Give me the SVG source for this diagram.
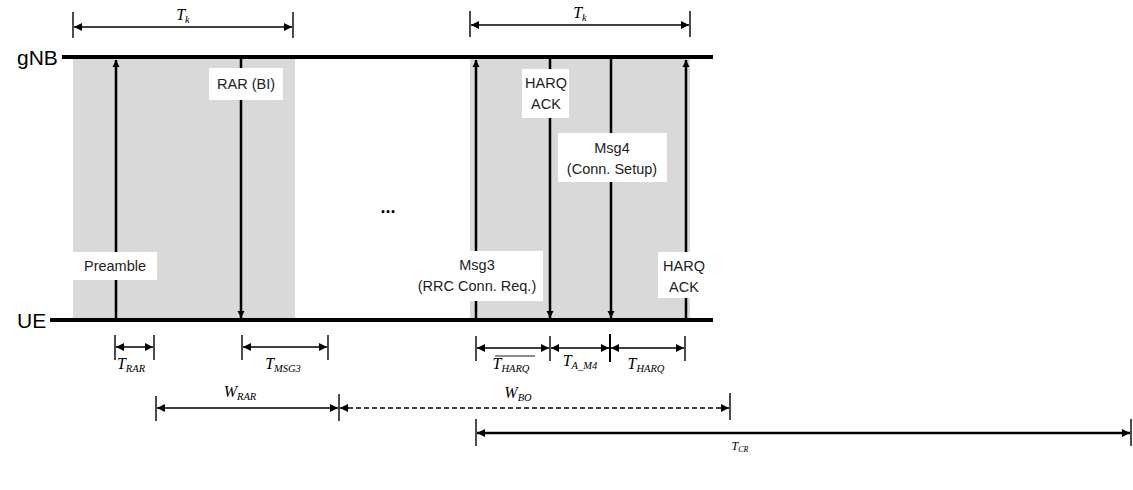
<svg xmlns="http://www.w3.org/2000/svg" width="1133" height="490" viewBox="0 0 1133 490">
<style>
.bg{fill:#ffffff}
.shade{fill:#d9d9d9}
.life{stroke:#000;stroke-width:4;fill:none}
.msg{stroke:#000;stroke-width:2.5;fill:none}
.dim{stroke:#000;stroke-width:1.6;fill:none}
.tick{stroke:#000;stroke-width:1.4;fill:none}
.lbox{fill:#ffffff}
.lt{font-family:"Liberation Sans",Arial,sans-serif;font-size:14.5px;fill:#222;text-anchor:middle}
.ent{font-family:"Liberation Sans",Arial,sans-serif;font-size:21px;fill:#000}
.math{font-family:"Liberation Serif","Times New Roman",serif;font-style:italic;font-size:16px;fill:#000;text-anchor:middle}
.sub{font-size:10.5px}
.dots{font-family:"Liberation Sans",Arial,sans-serif;font-size:18px;font-weight:bold;fill:#000;text-anchor:middle}
</style>
<defs>
<marker id="ah" viewBox="0 0 10 10" refX="10" refY="5" markerWidth="8" markerHeight="8" markerUnits="userSpaceOnUse" orient="auto-start-reverse">
<path d="M0,0 L10,5 L0,10 z" fill="#000"/>
</marker>
<marker id="ahm" viewBox="0 0 10 10" refX="10" refY="5" markerWidth="7" markerHeight="9" markerUnits="userSpaceOnUse" orient="auto">
<path d="M0,0 L10,5 L0,10 z" fill="#000"/>
</marker>
</defs>
<rect class="bg" x="0" y="0" width="1133" height="490"/>

<g id="shading">
<rect class="shade" x="73" y="58" width="222" height="261"/>
<rect class="shade" x="470" y="58" width="220" height="261"/>
</g>

<g id="gNB">
<text class="ent" x="17" y="65">gNB</text>
<line class="life" x1="62" y1="57" x2="713" y2="57"/>
</g>
<g id="UE">
<text class="ent" x="17" y="328">UE</text>
<line class="life" x1="50" y1="320" x2="713" y2="320"/>
</g>

<g id="connectors">
<line class="msg" x1="116" y1="318" x2="116" y2="60" marker-end="url(#ahm)"/>
<line class="msg" x1="241" y1="59" x2="241" y2="318" marker-end="url(#ahm)"/>
<line class="msg" x1="476" y1="318" x2="476" y2="60" marker-end="url(#ahm)"/>
<line class="msg" x1="550" y1="59" x2="550" y2="318" marker-end="url(#ahm)"/>
<line class="msg" x1="611" y1="59" x2="611" y2="318" marker-end="url(#ahm)"/>
<line class="msg" x1="686" y1="318" x2="686" y2="60" marker-end="url(#ahm)"/>
</g>

<g id="preamble">
<rect class="lbox" x="73" y="252" width="84" height="28"/>
<text class="lt" x="115" y="271">Preamble</text>
</g>
<g id="rar">
<rect class="lbox" x="209" y="68" width="74" height="32"/>
<text class="lt" x="246" y="89">RAR (BI)</text>
</g>
<g id="msg3">
<rect class="lbox" x="412" y="251" width="131" height="50"/>
<text class="lt" x="477" y="270">Msg3</text>
<text class="lt" x="477" y="291">(RRC Conn. Req.)</text>
</g>
<g id="harq-ack-1">
<rect class="lbox" x="522" y="69" width="47" height="49"/>
<text class="lt" x="546" y="88">HARQ</text>
<text class="lt" x="546" y="109">ACK</text>
</g>
<g id="msg4">
<rect class="lbox" x="558" y="133" width="109" height="49"/>
<text class="lt" x="612" y="153">Msg4</text>
<text class="lt" x="612" y="174">(Conn. Setup)</text>
</g>
<g id="harq-ack-2">
<rect class="lbox" x="658" y="252" width="52" height="46"/>
<text class="lt" x="684" y="271">HARQ</text>
<text class="lt" x="684" y="292">ACK</text>
</g>

<g id="ellipsis">
<text class="dots" x="388" y="213">...</text>
</g>

<g id="timing">
<line class="tick" x1="73" y1="12" x2="73" y2="38"/>
<line class="tick" x1="293" y1="12" x2="293" y2="38"/>
<line class="dim" x1="74" y1="27" x2="292" y2="27" marker-start="url(#ah)" marker-end="url(#ah)"/>
<text class="math" x="183" y="20">T<tspan class="sub" dy="3">k</tspan></text>
<line class="tick" x1="470" y1="11" x2="470" y2="37"/>
<line class="tick" x1="690" y1="11" x2="690" y2="37"/>
<line class="dim" x1="471" y1="25" x2="689" y2="25" marker-start="url(#ah)" marker-end="url(#ah)"/>
<text class="math" x="580" y="18">T<tspan class="sub" dy="3">k</tspan></text>

<line class="tick" x1="115" y1="335" x2="115" y2="360"/>
<line class="tick" x1="154" y1="335" x2="154" y2="360"/>
<line class="dim" x1="116" y1="347" x2="153" y2="347" marker-start="url(#ah)" marker-end="url(#ah)"/>
<text class="math" x="131" y="369">T<tspan class="sub" dy="3">RAR</tspan></text>
<line class="tick" x1="242" y1="335" x2="242" y2="360"/>
<line class="tick" x1="328" y1="335" x2="328" y2="360"/>
<line class="dim" x1="243" y1="347" x2="327" y2="347" marker-start="url(#ah)" marker-end="url(#ah)"/>
<text class="math" x="283" y="369">T<tspan class="sub" dy="3">MSG3</tspan></text>

<line class="tick" x1="476" y1="336" x2="476" y2="361"/>
<line class="tick" x1="550" y1="336" x2="550" y2="361"/>
<line class="tick" x1="610" y1="334" x2="610" y2="362" style="stroke-width:2"/>
<line class="tick" x1="685" y1="336" x2="685" y2="361"/>
<line class="dim" x1="477" y1="348" x2="549" y2="348" marker-start="url(#ah)" marker-end="url(#ah)"/>
<line class="dim" x1="551" y1="348" x2="609" y2="348" marker-start="url(#ah)" marker-end="url(#ah)"/>
<line class="dim" x1="611" y1="348" x2="684" y2="348" marker-start="url(#ah)" marker-end="url(#ah)"/>
<text class="math" x="511" y="369">T<tspan class="sub" dy="3">HARQ</tspan></text>
<line x1="495" y1="356" x2="535" y2="356" stroke="#000" stroke-width="0.9"/>
<text class="math" x="580" y="366">T<tspan class="sub" dy="3">A_M4</tspan></text>
<text class="math" x="646" y="369">T<tspan class="sub" dy="3">HARQ</tspan></text>

<line class="tick" x1="156" y1="396" x2="156" y2="421"/>
<line class="tick" x1="339" y1="394" x2="339" y2="421"/>
<line class="dim" x1="157" y1="408" x2="338" y2="408" marker-start="url(#ah)" marker-end="url(#ah)"/>
<text class="math" x="240" y="397">W<tspan class="sub" dy="3">RAR</tspan></text>
<line x1="340" y1="408" x2="729" y2="408" stroke="#000" stroke-width="1.4" stroke-dasharray="5,3" marker-start="url(#ah)" marker-end="url(#ah)"/>
<line class="tick" x1="730" y1="393" x2="730" y2="420"/>
<text class="math" x="518" y="398">W<tspan class="sub" dy="3">BO</tspan></text>
<line class="tick" x1="476" y1="419" x2="476" y2="446"/>
<line class="tick" x1="1131" y1="419" x2="1131" y2="446"/>
<line x1="477" y1="433" x2="1130" y2="433" stroke="#000" stroke-width="2.6" marker-start="url(#ah)" marker-end="url(#ah)"/>
<text class="math" x="740" y="450" style="font-size:12px">T<tspan class="sub" dy="2" style="font-size:8px">CR</tspan></text>
</g>
</svg>
